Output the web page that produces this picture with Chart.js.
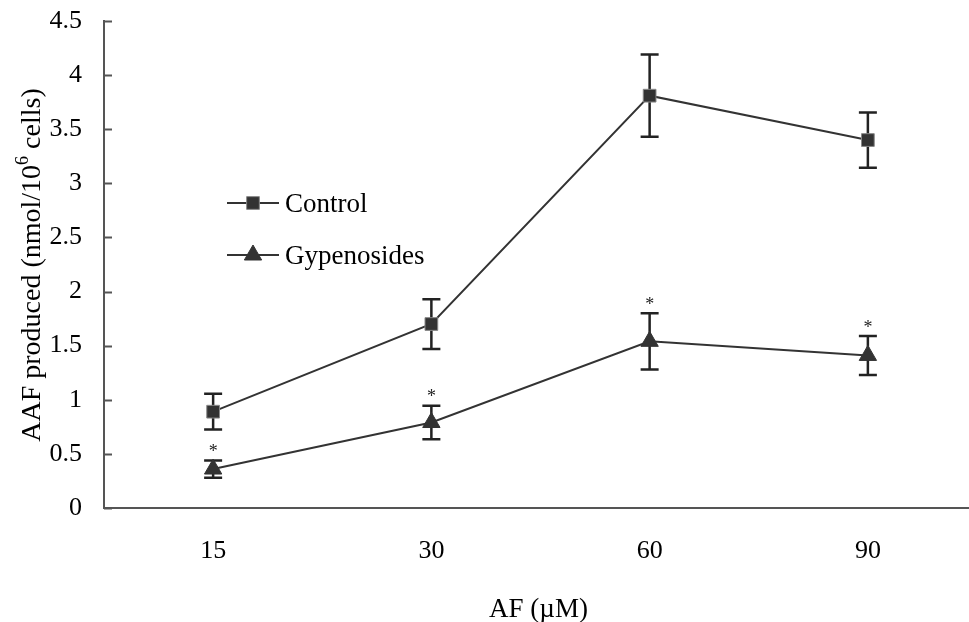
<!DOCTYPE html>
<html>
<head>
<meta charset="utf-8">
<script src="https://cdn.jsdelivr.net/npm/chart.js@4"></script>
<style>
  html, body { margin: 0; padding: 0; background: #fff; overflow: hidden; }
  #wrap { width: 969px; height: 622px; overflow: hidden; }
</style>
</head>
<body>
<div id="wrap"><canvas id="chart" width="980" height="622"></canvas></div>
<script>
const doses = ["15", "30", "60", "90"];
const controlMean = [0.89, 1.70, 3.81, 3.40];
const controlErr = [0.165, 0.23, 0.38, 0.255];
const gypMean = [0.36, 0.79, 1.54, 1.41];
const gypErr = [0.08, 0.155, 0.26, 0.18];
const gypStar = [true, true, true, true];
const yTicks = [0, 0.5, 1, 1.5, 2, 2.5, 3, 3.5, 4, 4.5];

const serif = "'Liberation Serif', 'Times New Roman', serif";
const ink = "#333";

// error bars, inward y ticks, asterisks, titles and legend
const extras = {
  id: "extras",
  beforeDatasetsDraw(chart) {
    const ctx = chart.ctx;
    const x = chart.scales.x, y = chart.scales.y;
    ctx.save();
    ctx.strokeStyle = "#222";
    ctx.lineWidth = 2.5;
    const series = [[controlMean, controlErr], [gypMean, gypErr]];
    series.forEach(([m, e]) => {
      m.forEach((v, i) => {
        const px = x.getPixelForValue(i);
        const top = y.getPixelForValue(v + e[i]);
        const bot = y.getPixelForValue(v - e[i]);
        ctx.beginPath();
        ctx.moveTo(px, top); ctx.lineTo(px, bot);
        ctx.moveTo(px - 9, top); ctx.lineTo(px + 9, top);
        ctx.moveTo(px - 9, bot); ctx.lineTo(px + 9, bot);
        ctx.stroke();
      });
    });
    ctx.restore();
  },
  afterDraw(chart) {
    const ctx = chart.ctx;
    const x = chart.scales.x, y = chart.scales.y;
    const area = chart.chartArea;
    ctx.save();

    // inward tick marks on the y axis
    ctx.strokeStyle = "#555";
    ctx.lineWidth = 2;
    yTicks.forEach(t => {
      const py = Math.round(y.getPixelForValue(t)) + 0.5;
      ctx.beginPath();
      ctx.moveTo(area.left, py); ctx.lineTo(area.left + 8, py);
      ctx.stroke();
    });

    // significance asterisks
    ctx.fillStyle = "#222";
    ctx.font = "18px " + serif;
    ctx.textAlign = "center";
    ctx.textBaseline = "middle";
    gypMean.forEach((v, i) => {
      if (!gypStar[i]) return;
      const px = x.getPixelForValue(i);
      const py = y.getPixelForValue(v + gypErr[i]) - 12;
      ctx.fillText("*", px, py + 4);
    });

    // x axis title
    ctx.fillStyle = "#000";
    ctx.font = "27px " + serif;
    ctx.textBaseline = "alphabetic";
    ctx.fillText("AF (\u00b5M)", (area.left + area.right) / 2 - 2, 617);

    // y axis title with superscript
    const big = "28px " + serif, small = "18px " + serif;
    const p1 = "AAF produced (nmol/10", p2 = "6", p3 = " cells)";
    ctx.font = big;
    const w1 = ctx.measureText(p1).width, w3 = ctx.measureText(p3).width;
    ctx.font = small;
    const w2 = ctx.measureText(p2).width;
    const total = w1 + w2 + w3;
    ctx.translate(40, 265);
    ctx.rotate(-Math.PI / 2);
    ctx.textAlign = "left";
    let cx = -total / 2;
    ctx.font = big; ctx.fillText(p1, cx, 0); cx += w1;
    ctx.font = small; ctx.fillText(p2, cx, -12); cx += w2;
    ctx.font = big; ctx.fillText(p3, cx, 0);
    ctx.setTransform(1, 0, 0, 1, 0, 0);

    // legend
    const items = [
      { label: "Control", y: 203, style: "rect", r: 9 },
      { label: "Gypenosides", y: 255, style: "triangle", r: 10 }
    ];
    items.forEach(it => {
      ctx.strokeStyle = ink;
      ctx.lineWidth = 2;
      ctx.beginPath();
      ctx.moveTo(227, it.y); ctx.lineTo(279, it.y);
      ctx.stroke();
      ctx.fillStyle = ink;
      ctx.strokeStyle = it.style === "rect" ? "#888" : ink;
      ctx.lineWidth = 1;
      Chart.helpers.drawPoint(ctx, { pointStyle: it.style, radius: it.r, borderWidth: 1 }, 253, it.y);
      ctx.fillStyle = "#000";
      ctx.font = "27px " + serif;
      ctx.textAlign = "left";
      ctx.textBaseline = "middle";
      ctx.fillText(it.label, 285, it.y + 2);
    });
    ctx.restore();
  }
};

new Chart(document.getElementById("chart"), {
  type: "line",
  data: {
    labels: doses,
    datasets: [
      {
        label: "Control",
        data: controlMean,
        borderColor: ink,
        borderWidth: 2,
        pointStyle: "rect",
        pointRadius: 9,
        pointBackgroundColor: ink,
        pointBorderColor: "#888",
        pointBorderWidth: 1,
        tension: 0
      },
      {
        label: "Gypenosides",
        data: gypMean,
        borderColor: ink,
        borderWidth: 2,
        pointStyle: "triangle",
        pointRadius: 10,
        pointBackgroundColor: ink,
        pointBorderColor: ink,
        pointBorderWidth: 1,
        tension: 0
      }
    ]
  },
  options: {
    responsive: false,
    animation: false,
    events: [],
    layout: { autoPadding: false, padding: { left: 0, right: 3, top: 21, bottom: 0 } },
    plugins: { legend: { display: false }, tooltip: { enabled: false } },
    scales: {
      x: {
        type: "category",
        offset: true,
        grid: { display: false, drawTicks: false },
        border: { display: true, color: "#555", width: 2 },
        ticks: { color: "#000", font: { family: serif, size: 26 }, padding: 28 },
        afterFit(s) { s.height = 114; s.paddingLeft = 0; s.paddingRight = 0; }
      },
      y: {
        min: 0,
        max: 4.5,
        grid: { display: false, drawTicks: false },
        border: { display: true, color: "#555", width: 2 },
        ticks: {
          stepSize: 0.5,
          color: "#000",
          font: { family: serif, size: 26 },
          padding: 22,
          callback: v => String(v)
        },
        afterBuildTicks(s) { s.ticks = yTicks.map(v => ({ value: v })); },
        afterFit(s) { s.width = 104; s.paddingTop = 0; s.paddingBottom = 0; }
      }
    }
  },
  plugins: [extras]
});
</script>
</body>
</html>
